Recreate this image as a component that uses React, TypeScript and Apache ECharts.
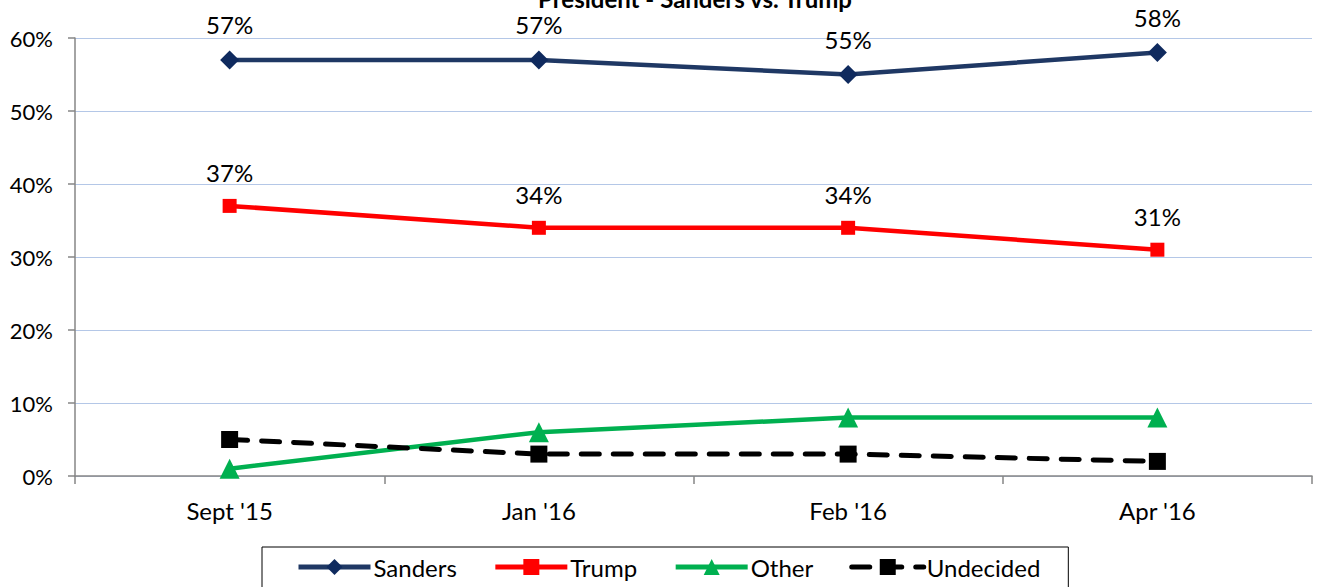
import React, { useEffect, useRef } from "react";
import * as echarts from "echarts";

const categories = ["Sept '15", "Jan '16", "Feb '16", "Apr '16"];
const sanders = [57, 57, 55, 58];
const trump = [37, 34, 34, 31];
const other = [1, 6, 8, 8];
const undecided = [5, 3, 3, 2];

const FONT = "Lato, 'Open Sans', sans-serif";

export default function App() {
  const ref = useRef<HTMLDivElement>(null);
  useEffect(() => {
    if (!ref.current) return;
    const chart = echarts.init(ref.current, undefined, { renderer: "svg" });
    const labelCfg = {
      show: true,
      position: "top",
      distance: 14,
      formatter: "{c}%",
      fontSize: 24,
      color: "#000",
      fontFamily: FONT,
    };
    chart.setOption({
      animation: false,
      backgroundColor: "#fff",
      textStyle: { fontFamily: FONT },
      title: {
        text: "President - Sanders vs. Trump",
        left: 690,
        textAlign: "center",
        top: -19,
        textStyle: { fontSize: 24, fontWeight: "bold", color: "#000", fontFamily: FONT },
      },
      grid: { left: 75, right: 6, top: 38, bottom: 111 },
      xAxis: {
        type: "category",
        data: categories,
        boundaryGap: true,
        axisLine: { lineStyle: { color: "#868686", width: 1.5 } },
        axisTick: { show: true, alignWithLabel: false, length: 8, lineStyle: { color: "#868686", width: 1.5 } },
        axisLabel: { fontSize: 24, color: "#000", margin: 22, fontFamily: FONT },
      },
      yAxis: {
        type: "value",
        min: 0,
        max: 60,
        interval: 10,
        axisLine: { show: true, lineStyle: { color: "#868686", width: 1.5 } },
        axisTick: { show: true, length: 7, lineStyle: { color: "#868686", width: 1.5 } },
        axisLabel: { formatter: "{value}%", fontSize: 22, color: "#000", margin: 22, fontFamily: FONT },
        splitLine: { lineStyle: { color: "#B4C7E7", width: 1 } },
      },
      legend: {
        bottom: -16,
        left: 262,
        itemWidth: 72,
        itemHeight: 20,
        itemGap: 36,
        padding: [8, 28, 24, 34],
        borderColor: "#000",
        borderWidth: 1,
        backgroundColor: "#fff",
        lineStyle: { width: 5 },
        textStyle: { fontSize: 24, color: "#000", fontFamily: FONT, padding: [0, 0, 0, -2] },
        data: ["Sanders", "Trump", "Other", "Undecided"],
      },
      series: [
        {
          name: "Sanders",
          type: "line",
          data: sanders,
          symbol: "diamond",
          symbolSize: 19,
          color: "#1F3864",
          lineStyle: { width: 4.5, color: "#1F3864" },
          itemStyle: { color: "#0F2A5E" },
          label: labelCfg,
        },
        {
          name: "Trump",
          type: "line",
          data: trump,
          symbol: "rect",
          symbolSize: 14,
          color: "#FF0000",
          lineStyle: { width: 4.5, color: "#FF0000" },
          itemStyle: { color: "#FF0000" },
          label: labelCfg,
        },
        {
          name: "Other",
          type: "line",
          data: other,
          symbol: "triangle",
          symbolSize: 20,
          color: "#00B050",
          lineStyle: { width: 4.5, color: "#00B050" },
          itemStyle: { color: "#00B050" },
        },
        {
          name: "Undecided",
          type: "line",
          data: undecided,
          symbol: "rect",
          symbolSize: 17,
          color: "#000",
          lineStyle: { width: 5, color: "#000", type: [18, 14], cap: "round" },
          itemStyle: { color: "#000" },
        },
      ],
    });
    return () => chart.dispose();
  }, []);
  return (
    <div style={{ position: "absolute", left: 0, top: 0, width: 1318, height: 587, overflow: "hidden" }}>
      <div ref={ref} style={{ width: 1318, height: 587 }} />
    </div>
  );
}
